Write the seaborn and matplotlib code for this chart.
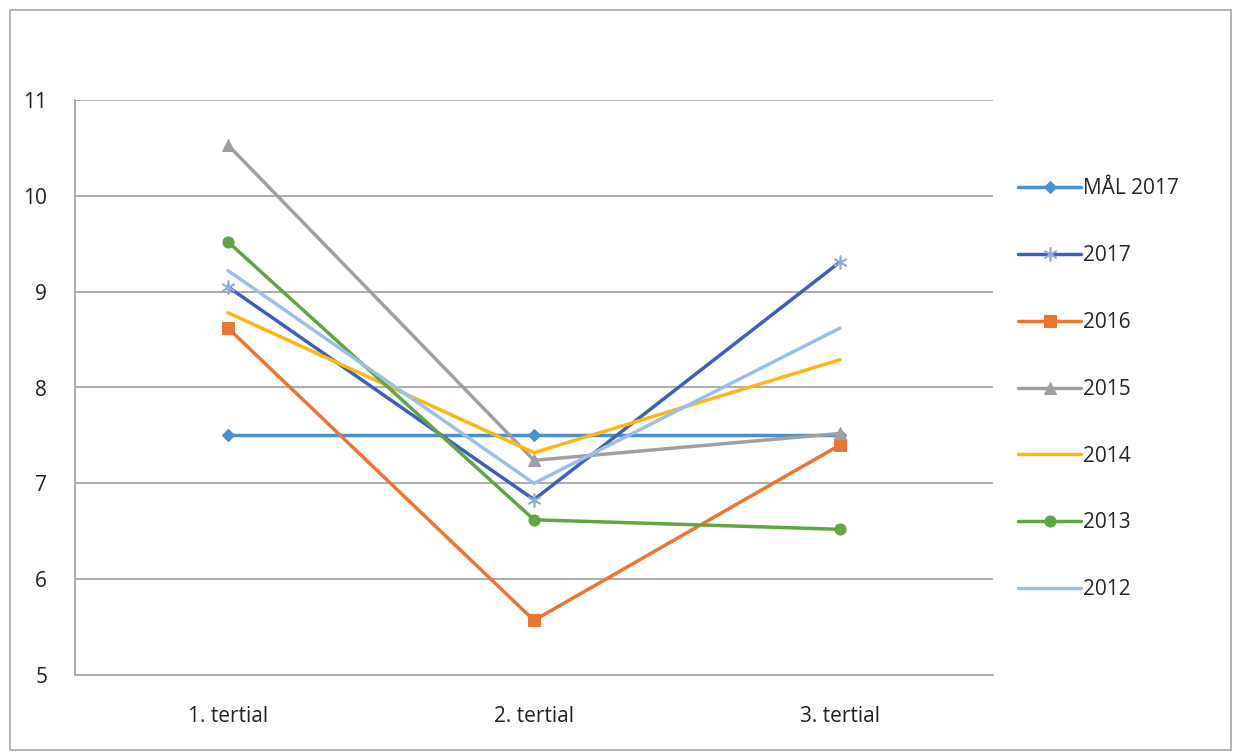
import numpy as np
import pandas as pd
import matplotlib
matplotlib.use("Agg")
import matplotlib.pyplot as plt
import seaborn as sns
from matplotlib.patches import Rectangle

# data
periods = ["1. tertial", "2. tertial", "3. tertial"]
mal_2017 = [7.5, 7.5, 7.5]
y2017 = [9.05, 6.83, 9.31]
y2016 = [8.62, 5.57, 7.40]
y2015 = [10.53, 7.24, 7.52]
y2014 = [8.78, 7.32, 8.29]
y2013 = [9.52, 6.62, 6.52]
y2012 = [9.22, 7.00, 8.62]

series = [
    ("MÅL 2017", mal_2017, "#4a8fd0", "D", 6),
    ("2017", y2017, "#3f5fb8", (6, 2, 0), 10),
    ("2016", y2016, "#ec7532", "s", 8),
    ("2015", y2015, "#a0a0a0", "^", 9),
    ("2014", y2014, "#fcb714", None, 0),
    ("2013", y2013, "#62a544", "o", 8),
    ("2012", y2012, "#9ac0e8", None, 0),
]

sns.set_style("white")
plt.rcParams["font.family"] = ["Open Sans", "DejaVu Sans"]

fig = plt.figure(figsize=(12.33, 7.53), dpi=100)
ax = fig.add_axes([75 / 1233, 1 - 675 / 753, (993 - 75) / 1233, (675 - 100) / 753])

for name, vals, color, marker, ms in series:
    df = pd.DataFrame({"x": np.arange(len(periods)), "y": vals})
    kw = dict(marker=marker, markersize=ms, markeredgecolor=color,
              markerfacecolor=color) if marker is not None else dict()
    if marker == (6, 2, 0):
        kw = dict(marker=marker, markersize=ms, markeredgecolor="#8faadc",
                  markeredgewidth=1.2)
    sns.lineplot(data=df, x="x", y="y", ax=ax, color=color, linewidth=2.5,
                 label=name, **kw)

ax.set_xlim(-0.5, 2.5)
ax.set_ylim(5, 11)
ax.set_yticks(range(5, 12))
ax.set_xticks(range(3))
ax.set_xticklabels(periods)
ax.set_xticks([-0.5, 0.5, 1.5, 2.5], minor=True)
ax.set_xlabel("")
ax.set_ylabel("")
ax.grid(axis="y", color="#a6a6a6", linewidth=1.3)
ax.set_axisbelow(True)
for s in ["top", "right"]:
    ax.spines[s].set_visible(False)
for s in ["left", "bottom"]:
    ax.spines[s].set_color("#a6a6a6")
    ax.spines[s].set_linewidth(1.3)
ax.tick_params(axis="y", which="major", length=6, color="#a6a6a6", labelsize=15, pad=14)
ax.tick_params(axis="x", which="major", length=0, labelsize=15, pad=22)
ax.tick_params(axis="x", which="minor", length=6, color="#a6a6a6", direction="in")
for lbl in ax.get_xticklabels() + ax.get_yticklabels():
    lbl.set_color("#222222")

handles, labels = ax.get_legend_handles_labels()
ax.legend(handles, labels, loc="upper left", bbox_to_anchor=(1010 / 1233, 1 - 170 / 753),
          bbox_transform=fig.transFigure, frameon=False, fontsize=15,
          labelspacing=2.2, handlelength=3.0, handletextpad=0.1, borderaxespad=0)

fig.patches.append(Rectangle((10 / 1233, 3 / 753), 1221 / 1233, 740 / 753,
                             transform=fig.transFigure, fill=False,
                             edgecolor="#a6a6a6", linewidth=1.2))

fig.savefig("out.png", dpi=100)
